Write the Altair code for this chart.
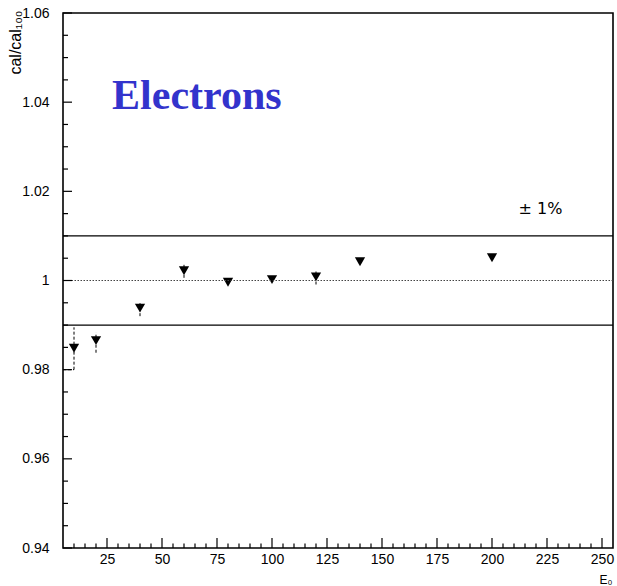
import altair as alt
import pandas as pd

# data
energy = [10, 20, 40, 60, 80, 100, 120, 140, 200]
ratio = [0.9848, 0.9865, 0.9938, 1.0022, 0.9996, 1.0002, 1.0008, 1.0042, 1.0051]
err_lo = [0.9800, 0.9838, 0.9920, 1.0006, 0.9991, 0.9998, 0.9991, 1.0039, 1.0048]
err_hi = [0.9895, 0.9883, 0.9951, 1.0036, 1.0001, 1.0006, 1.0021, 1.0045, 1.0054]

band_lines = [1.01, 0.99]
ref_line = [1.0]

# the clipped error-bar tail at the first point
tail_x = [5, 10]
tail_y = [0.98, 0.98]

x_major = [25, 50, 75, 100, 125, 150, 175, 200, 225, 250]
x_minor = [v for v in range(10, 255, 5) if v % 25 != 0]
y_major = [0.94, 0.96, 0.98, 1.0, 1.02, 1.04, 1.06]
y_minor = [round(0.94 + 0.005 * i, 3) for i in range(25) if i % 4 != 0]

W, H = 550, 535
FONT = "Liberation Sans"

xs = alt.Scale(domain=[5, 255], nice=False, zero=False)
ys = alt.Scale(domain=[0.94, 1.06], nice=False, zero=False)

ax_x = alt.Axis(
    values=x_major, title="E₀", titleFontSize=12, titleFont=FONT,
    titleFontWeight="normal", titleAlign="right", titleBaseline="alphabetic",
    titleX=549, titleY=35, labelFont=FONT, labelFontSize=14,
    labelPadding=4, labelColor="black", ticks=False, domain=False,
    grid=False, labelFlush=False)
ax_y = alt.Axis(
    values=y_major, format=".2~f", title="cal/cal₁₀₀", titleFontSize=16,
    titleFont=FONT, titleFontWeight="normal", titleAngle=270,
    titleAlign="right", titleBaseline="alphabetic", titleX=-43, titleY=-3,
    labelFont=FONT, labelFontSize=14, labelPadding=14, labelColor="black",
    ticks=False, domain=False, grid=False, labelFlush=False)


def X(f):
    return alt.X(f, scale=xs, axis=ax_x)


def Y(f):
    return alt.Y(f, scale=ys, axis=ax_y)


df = pd.DataFrame({"E": energy, "r": ratio, "lo": err_lo, "hi": err_hi})

points = alt.Chart(df).mark_point(
    shape="triangle-down", filled=True, color="black", size=105, opacity=1
).encode(x=X("E:Q"), y=Y("r:Q"))

errs = alt.Chart(df).mark_rule(color="black", strokeWidth=1, strokeDash=[3, 2]).encode(
    x=X("E:Q"), y=Y("lo:Q"), y2="hi:Q")

tail = alt.Chart(pd.DataFrame({"x": tail_x, "y": tail_y})).mark_line(
    color="black", strokeWidth=1, strokeDash=[3, 2]
).encode(x=X("x:Q"), y=Y("y:Q"))

band = alt.Chart(pd.DataFrame({"y": band_lines})).mark_rule(
    color="black", strokeWidth=1.3
).encode(y=Y("y:Q"))

ref = alt.Chart(pd.DataFrame({"y": ref_line})).mark_rule(
    color="#444444", strokeWidth=1, strokeDash=[1.5, 1.5]
).encode(y=Y("y:Q"))

xmaj = alt.Chart(pd.DataFrame({"t": x_major})).mark_rule(color="black", strokeWidth=1.2).encode(
    x=X("t:Q"), y=alt.value(H), y2=alt.value(H - 10))
xmin = alt.Chart(pd.DataFrame({"t": x_minor})).mark_rule(color="black", strokeWidth=1.2).encode(
    x=X("t:Q"), y=alt.value(H), y2=alt.value(H - 4.5))
ymaj = alt.Chart(pd.DataFrame({"t": y_major})).mark_rule(color="black", strokeWidth=1.2).encode(
    y=Y("t:Q"), x=alt.value(0), x2=alt.value(9))
ymin = alt.Chart(pd.DataFrame({"t": y_minor})).mark_rule(color="black", strokeWidth=1.2).encode(
    y=Y("t:Q"), x=alt.value(0), x2=alt.value(5))

title_df = pd.DataFrame({"x": [27.3], "y": [1.0384], "label": ["Electrons"]})
title_txt = alt.Chart(title_df).mark_text(
    font="Liberation Serif", fontWeight="bold", fontSize=42, color="#3333CC",
    align="left", baseline="alphabetic"
).encode(x=X("x:Q"), y=Y("y:Q"), text="label:N")

pm_df = pd.DataFrame({"x": [222.0], "y": [1.016], "label": ["±\u00a01%"]})
pm_txt = alt.Chart(pm_df).mark_text(
    font="DejaVu Sans", fontSize=16, color="black", align="center", baseline="middle"
).encode(x=X("x:Q"), y=Y("y:Q"), text="label:N")

chart = alt.layer(
    points, band, ref, errs, tail, xmaj, xmin, ymaj, ymin, title_txt, pm_txt
).properties(
    width=W, height=H,
    autosize=alt.AutoSizeParams(type="none"),
    padding={"left": 63, "top": 13, "right": 4, "bottom": 38},
    background="white",
).configure_view(stroke="black", strokeWidth=1.6)

chart.save("out.html", embed_options={"renderer": "svg", "actions": False})
